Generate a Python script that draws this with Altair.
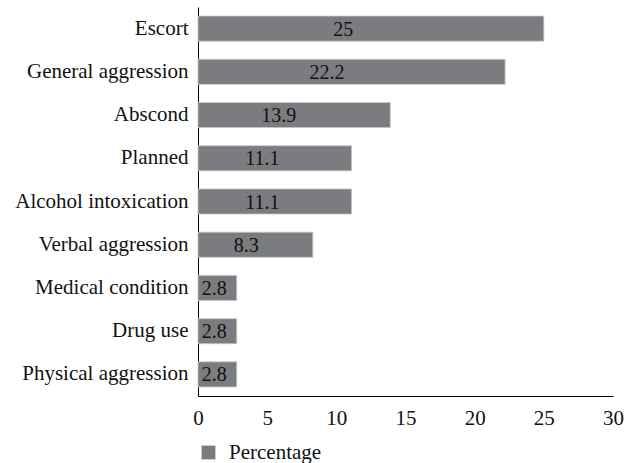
import altair as alt
import pandas as pd

# Reasons for the event, in the order shown top to bottom
categories = [
    "Escort",
    "General aggression",
    "Abscond",
    "Planned",
    "Alcohol intoxication",
    "Verbal aggression",
    "Medical condition",
    "Drug use",
    "Physical aggression",
]
percentages = [25, 22.2, 13.9, 11.1, 11.1, 8.3, 2.8, 2.8, 2.8]
x_ticks = [0, 5, 10, 15, 20, 25, 30]

df = pd.DataFrame({
    "reason": categories,
    "value": percentages,
    "series": ["Percentage"] * len(categories),
})

FONT = "Liberation Serif"
FS = 21
BAR = "#7b7c80"

y_enc = alt.Y(
    "reason:N",
    sort=categories,
    title=None,
    scale=alt.Scale(paddingInner=0.42, paddingOuter=0.21),
    axis=alt.Axis(ticks=False, labelPadding=10, domainColor="#000000",
                  labelFont=FONT, labelFontSize=FS, labelColor="#111111",
                  labelLimit=300),
)

bars = alt.Chart(df).mark_bar(stroke="#c8c8c8", strokeWidth=0.8).encode(
    x=alt.X(
        "value:Q",
        title=None,
        scale=alt.Scale(domain=[0, 30], nice=False),
        axis=alt.Axis(values=x_ticks, ticks=False, grid=False, labelPadding=11,
                      domainColor="#000000", labelFont=FONT, labelFontSize=FS,
                      labelColor="#111111", labelFlush=False),
    ),
    y=y_enc,
    color=alt.Color(
        "series:N",
        scale=alt.Scale(range=[BAR]),
        legend=alt.Legend(
            title=None, orient="none", legendX=0, legendY=435,
            symbolType="square", symbolSize=190, symbolStrokeWidth=0,
            labelFont=FONT, labelFontSize=FS, labelColor="#111111",
            labelOffset=10, padding=0,
        ),
    ),
)

labels = alt.Chart(df).transform_calculate(
    pos="datum.value * 0.42"
).mark_text(font=FONT, fontSize=20, color="#111111", align="center", baseline="middle", dy=1).encode(
    x=alt.X("pos:Q"),
    y=alt.Y("reason:N", sort=categories),
    text=alt.Text("value:Q"),
)

chart = (bars + labels).properties(
    width=415,
    height=389,
    autosize=alt.AutoSizeParams(type="none"),
    padding={"left": 198, "top": 7, "right": 24, "bottom": 67},
).configure(background="#ffffff").configure_view(stroke=None)

chart.save("out.html", embed_options={"renderer": "svg", "actions": False})
